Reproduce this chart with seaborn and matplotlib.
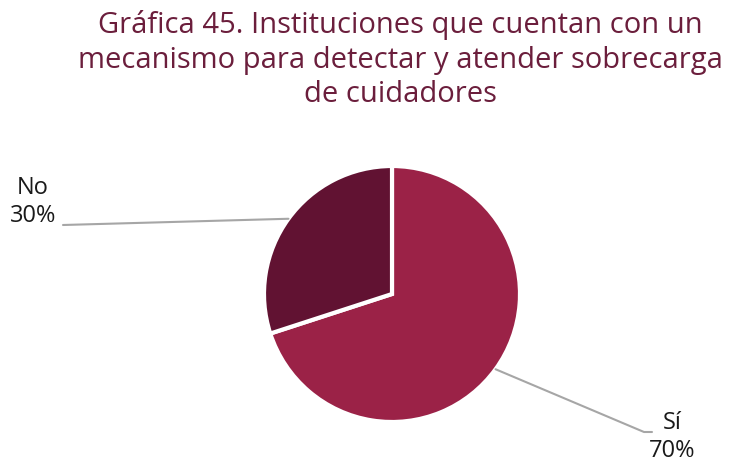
import numpy as np
import matplotlib
matplotlib.use("Agg")
import matplotlib.pyplot as plt
import seaborn as sns

# Data
categories = ["Sí", "No"]
values = [70, 30]
colors = ["#9B2247", "#611232"]
title = "Gráfica 45. Instituciones que cuentan con un\nmecanismo para detectar y atender sobrecarga\nde cuidadores"

sns.set_theme(style="white")
plt.rcParams["font.family"] = ["Open Sans", "DejaVu Sans"]

W, H = 739, 462
fig = plt.figure(figsize=(W / 100, H / 100), dpi=100)
ax = fig.add_axes([0, 0, 1, 1])

cx, cy, r = 392, H - 294, 128
wedges, _ = ax.pie(values, colors=colors, startangle=90, counterclock=False,
                   center=(cx, cy), radius=r, frame=True,
                   wedgeprops=dict(edgecolor="white", linewidth=3))
ax.set_xlim(0, W)
ax.set_ylim(0, H)
ax.set_aspect("equal")
ax.axis("off")

# Leader lines and labels
label_pos = {"Sí": (652, H - 432), "No": (63, H - 225)}
for w, cat, val in zip(wedges, categories, values):
    ang = np.deg2rad((w.theta1 + w.theta2) / 2)
    ex, ey = cx + r * np.cos(ang), cy + r * np.sin(ang)
    lx, ly = label_pos[cat]
    if cat == "Sí":
        ax.plot([ex, lx - 8, lx], [ey, ly, ly], color="#A6A6A6", lw=1.5)
        ax.text(lx + 20, ly - 5, f"{cat}\n{val}%", ha="center", va="center",
                fontsize=17, color="#1a1a1a", linespacing=1.2)
    else:
        ax.plot([ex, lx], [ey, ly], color="#A6A6A6", lw=1.5)
        ax.text(lx - 30, ly + 23, f"{cat}\n{val}%", ha="center", va="center",
                fontsize=17, color="#1a1a1a", linespacing=1.2)

fig.text(400 / W, 1 - 60 / H, title, ha="center", va="center",
         fontsize=21, color="#6B1E3C", linespacing=1.25)

fig.savefig("out.png", dpi=100, facecolor="white")
